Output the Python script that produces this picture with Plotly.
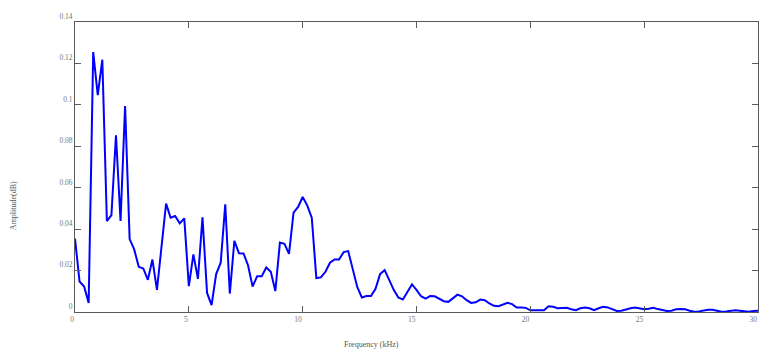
import plotly.graph_objects as go

# Amplitude spectrum sampled every 0.2 kHz from 0 to 30 kHz
freq_step_khz = 0.2
amplitude = [
    0.0354, 0.0147, 0.0123, 0.0044, 0.1255, 0.1047, 0.1218, 0.0439, 0.0468, 0.0853,
    0.0439, 0.0994, 0.0352, 0.0302, 0.0218, 0.0210, 0.0155, 0.0253, 0.0107, 0.0318,
    0.0523, 0.0455, 0.0463, 0.0428, 0.0452, 0.0125, 0.0278, 0.0160, 0.0457, 0.0092,
    0.0033, 0.0183, 0.0238, 0.0520, 0.0089, 0.0344, 0.0284, 0.0283, 0.0226, 0.0123,
    0.0172, 0.0172, 0.0215, 0.0194, 0.0101, 0.0335, 0.0329, 0.0281, 0.0480, 0.0507,
    0.0555, 0.0515, 0.0455, 0.0164, 0.0167, 0.0194, 0.0238, 0.0254, 0.0254, 0.0289,
    0.0294, 0.0207, 0.0120, 0.0070, 0.0077, 0.0077, 0.0112, 0.0183, 0.0202, 0.0155,
    0.0107, 0.0070, 0.0060, 0.0097, 0.0133, 0.0107, 0.0076, 0.0065, 0.0077, 0.0076,
    0.0065, 0.0052, 0.0049, 0.0065, 0.0084, 0.0076, 0.0057, 0.0044, 0.0047, 0.0060,
    0.0057, 0.0041, 0.0030, 0.0028, 0.0036, 0.0044, 0.0038, 0.0022, 0.0022, 0.0020,
    0.0008, 0.0008, 0.0006, 0.0009, 0.0028, 0.0025, 0.0018, 0.0019, 0.0020, 0.0013,
    0.0009, 0.0018, 0.0022, 0.0018, 0.0009, 0.0018, 0.0025, 0.0022, 0.0013, 0.0005,
    0.0006, 0.0013, 0.0018, 0.0022, 0.0018, 0.0013, 0.0016, 0.0020, 0.0014, 0.0009,
    0.0005, 0.0006, 0.0013, 0.0014, 0.0013, 0.0006, 0.0001, 0.0003, 0.0008, 0.0011,
    0.0011, 0.0006, 0.0001, 0.0003, 0.0006, 0.0008, 0.0006, 0.0003, 0.0001, 0.0005,
    0.0006,
]
frequency_khz = [round(i * freq_step_khz, 1) for i in range(len(amplitude))]

x_tick_vals = [0, 5, 10, 15, 20, 25, 30]
x_tick_text = ["0", "5", "10", "15", "20", "25", "30"]
y_tick_vals = [0, 0.02, 0.04, 0.06, 0.08, 0.10, 0.12, 0.14]
y_tick_text = ["0", "0.02", "0.04", "0.06", "0.08", "0.1", "0.12", "0.14"]

x_title = "Frequency (kHz)"
y_title = "Amplitude(dB)"

font_family = "Liberation Serif, Times New Roman, serif"
axis_color = "#5a5a5a"
tick_font = dict(family=font_family, size=7.5, color="#777777")
title_font = dict(family=font_family, size=8, color="#555555")

fig = go.Figure()
fig.add_trace(go.Scatter(
    x=frequency_khz, y=amplitude, mode="lines",
    line=dict(color="#0000ff", width=2),
    showlegend=False, hoverinfo="skip",
))

common_axis = dict(
    showline=True, linecolor=axis_color, linewidth=1,
    mirror="ticks", ticks="inside", ticklen=6, tickcolor=axis_color, tickwidth=1,
    showgrid=False, zeroline=False, tickfont=tick_font,
)

fig.update_layout(
    width=774, height=355,
    margin=dict(l=75, r=16, t=17, b=43),
    paper_bgcolor="white", plot_bgcolor="white",
    xaxis=dict(range=[0, 30], tickvals=x_tick_vals, ticktext=x_tick_text,
               ticklabelposition="outside left", **common_axis),
    yaxis=dict(range=[0, 0.14], tickvals=y_tick_vals, ticktext=y_tick_text,
               ticklabelposition="outside top", **common_axis),
    annotations=[
        dict(text=x_title, xref="paper", yref="paper", x=(371.7 - 75) / 683, y=-33.3 / 295,
             xanchor="center", yanchor="middle", showarrow=False, font=title_font),
        dict(text=y_title, xref="paper", yref="paper", x=(13 - 75) / 683, y=(311.7 - 204) / 295,
             xanchor="center", yanchor="middle", textangle=-90, showarrow=False,
             font=title_font),
    ],
)

fig.write_html("out.html")
